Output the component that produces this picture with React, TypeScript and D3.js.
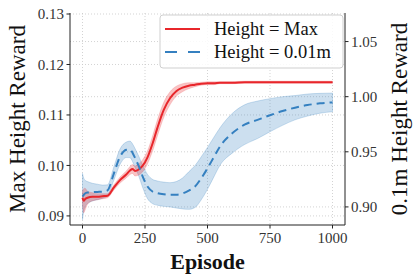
import React from 'react'
import * as d3 from 'd3'

const episodes = [0, 5, 10, 20, 40, 60, 80, 100, 125, 150, 175, 190, 200, 210, 225, 240, 260, 280, 300, 325, 350, 375, 400, 425, 450, 475, 500, 525, 550, 600, 650, 700, 750, 800, 850, 900, 950, 1000]

const maxMean = [0.0936, 0.0930, 0.0933, 0.0936, 0.0938, 0.0938, 0.0939, 0.0940,
  0.0956, 0.0971, 0.0982, 0.0990, 0.0993, 0.0989, 0.0992, 0.0999,
  0.1016, 0.1043, 0.1075, 0.1110, 0.1133, 0.1147, 0.1154, 0.1158,
  0.1160, 0.1162, 0.1163, 0.1163, 0.1164, 0.1164, 0.1165, 0.1165,
  0.1165, 0.1165, 0.1165, 0.1165, 0.1165, 0.1165]
const maxStd = [0.0012, 0.0024, 0.0022, 0.0013, 0.0008, 0.0006, 0.0005, 0.0004,
  0.0005, 0.0006, 0.0007, 0.0008, 0.0009, 0.0010, 0.0011, 0.0012,
  0.0013, 0.0015, 0.0016, 0.0015, 0.0013, 0.0010, 0.0008, 0.0006,
  0.0004, 0.0003, 0.0003, 0.0003, 0.0002, 0.0002, 0.0002, 0.0002,
  0.0002, 0.0002, 0.0002, 0.0002, 0.0002, 0.0002]

const lowMean = [0.9094, 0.9110, 0.9122, 0.9130, 0.9134, 0.9136, 0.9138, 0.9150,
  0.9300, 0.9455, 0.9518, 0.9522, 0.9492, 0.9445, 0.9370, 0.9280,
  0.9185, 0.9140, 0.9125, 0.9115, 0.9110, 0.9110, 0.9122, 0.9148,
  0.9185, 0.9260, 0.9350, 0.9450, 0.9548, 0.9670, 0.9748, 0.9790,
  0.9832, 0.9870, 0.9900, 0.9924, 0.9940, 0.9948]
const lowStd = [0.021, 0.015, 0.012, 0.010, 0.008, 0.007, 0.006, 0.005,
  0.006, 0.007, 0.007, 0.0075, 0.008, 0.0085, 0.009, 0.010,
  0.011, 0.011, 0.011, 0.011, 0.011, 0.012, 0.014, 0.017,
  0.019, 0.0195, 0.019, 0.018, 0.017, 0.018, 0.018, 0.017,
  0.015, 0.013, 0.011, 0.010, 0.009, 0.0085]

const xTicks = [0, 250, 500, 750, 1000]
const leftTicks = [0.09, 0.10, 0.11, 0.12, 0.13]
const rightTicks = [0.90, 0.95, 1.00, 1.05]
const legendLabels = ['Height = Max', 'Height = 0.01m']

const RED = '#e8262b'
const BLUE = '#3580c0'
const FONT = '"Liberation Serif", "DejaVu Serif", serif'

export default function App() {
  const W = 416, H = 279
  const left = 70, right = 345, top = 13, bottom = 225

  const x = d3.scaleLinear().domain([-50, 1050]).range([left, right])
  const yL = d3.scaleLinear().domain([0.0882, 0.1302]).range([bottom, top])
  const yR = d3.scaleLinear().domain([0.8836, 1.0759]).range([bottom, top])

  const band = (mean: number[], std: number[], y: d3.ScaleLinear<number, number>) =>
    d3.area<number>()
      .x((_, i) => x(episodes[i]))
      .y0((_, i) => y(mean[i] - std[i]))
      .y1((_, i) => y(mean[i] + std[i]))
      .curve(d3.curveMonotoneX)(mean) || ''
  const line = (mean: number[], y: d3.ScaleLinear<number, number>) =>
    d3.line<number>()
      .x((_, i) => x(episodes[i]))
      .y(d => y(d))
      .curve(d3.curveMonotoneX)(mean) || ''

  const grid = '#c8c8c8'
  const axisColor = '#222'

  return (
    <svg width={W} height={H} style={{ position: 'absolute', left: 0, top: 0, background: '#fff' }} fontFamily={FONT}>
      <defs>
        <clipPath id="plot"><rect x={left} y={top} width={right - left} height={bottom - top} /></clipPath>
      </defs>
      {/* grid */}
      <g stroke={grid} strokeWidth={0.8} strokeDasharray="1,2">
        {xTicks.map(t => <line key={'gx' + t} x1={x(t)} x2={x(t)} y1={top} y2={bottom} />)}
        {leftTicks.map(t => <line key={'gl' + t} x1={left} x2={right} y1={yL(t)} y2={yL(t)} />)}
        {rightTicks.map(t => <line key={'gr' + t} x1={left} x2={right} y1={yR(t)} y2={yR(t)} />)}
      </g>
      <g clipPath="url(#plot)">
        <path d={band(lowMean, lowStd, yR)} fill={BLUE} fillOpacity={0.25} stroke={BLUE} strokeOpacity={0.3} strokeWidth={0.8} />
        <path d={band(maxMean, maxStd, yL)} fill={RED} fillOpacity={0.28} stroke={RED} strokeOpacity={0.2} strokeWidth={0.8} />
        <path d={line(maxMean, yL)} fill="none" stroke={RED} strokeWidth={2} />
        <path d={line(lowMean, yR)} fill="none" stroke={BLUE} strokeWidth={2} strokeDasharray="8,5" />
      </g>
      {/* spines */}
      <g stroke={axisColor} strokeWidth={1} fill="none">
        <line x1={left} x2={left} y1={top} y2={bottom} />
        <line x1={right} x2={right} y1={top} y2={bottom} />
        <line x1={left} x2={right} y1={bottom} y2={bottom} />
      </g>
      {/* ticks */}
      <g fontSize={15} fill="#333">
        {xTicks.map(t => (
          <g key={'xt' + t}>
            <line x1={x(t)} x2={x(t)} y1={bottom} y2={bottom + 3.5} stroke={axisColor} />
            <text x={x(t)} y={243} textAnchor="middle">{t}</text>
          </g>
        ))}
        {leftTicks.map(t => (
          <g key={'lt' + t}>
            <line x1={left - 3.5} x2={left} y1={yL(t)} y2={yL(t)} stroke={axisColor} />
            <text x={left - 6} y={yL(t)} dy="0.35em" textAnchor="end">{t.toFixed(2)}</text>
          </g>
        ))}
        {rightTicks.map(t => (
          <g key={'rt' + t}>
            <line x1={right} x2={right + 3.5} y1={yR(t)} y2={yR(t)} stroke={axisColor} />
            <text x={right + 6} y={yR(t)} dy="0.35em" textAnchor="start">{t.toFixed(2)}</text>
          </g>
        ))}
      </g>
      {/* axis labels */}
      <text x={207.5} y={269} textAnchor="middle" fontSize={22} fontWeight="bold" fill="#111">Episode</text>
      <text transform={`translate(25,${(top + bottom) / 2}) rotate(-90)`} textAnchor="middle" fontSize={23} fill="#111">Max Height Reward</text>
      <text transform={`translate(407,${(top + bottom) / 2}) rotate(-90)`} textAnchor="middle" fontSize={23} fill="#111">0.1m Height Reward</text>
      {/* legend */}
      <g>
        <rect x={160} y={15} width={183} height={53} rx={3} fill="#fff" fillOpacity={0.85} stroke="#cfcfcf" strokeWidth={1} />
        <line x1={165} x2={200} y1={29} y2={29} stroke={RED} strokeWidth={2} />
        <line x1={165} x2={200} y1={52} y2={52} stroke={BLUE} strokeWidth={2} strokeDasharray="12,11" />
        {legendLabels.map((l, i) => (
          <text key={l} x={214} y={29 + i * 23} dy="0.35em" fontSize={18.5} fill="#111">{l}</text>
        ))}
      </g>
    </svg>
  )
}
